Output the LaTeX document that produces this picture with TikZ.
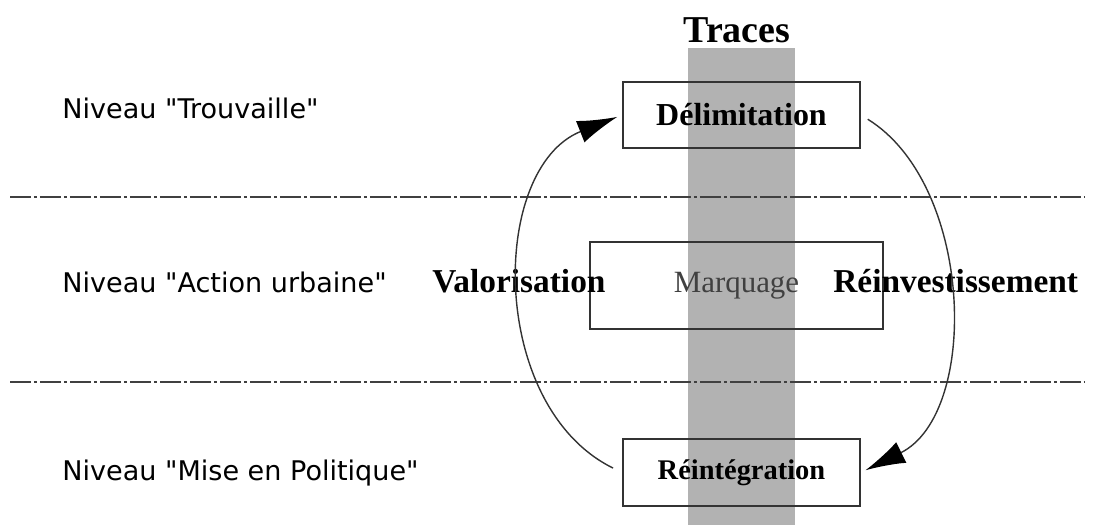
\documentclass[tikz,border=0pt]{standalone}
\usepackage{fontspec}
\setmainfont{Liberation Serif}
\newfontfamily\niveaufont{DejaVu Sans}
\usetikzlibrary{arrows.meta,positioning}

\tikzset{
  niveau/.style={anchor=base west,inner sep=0pt,font=\niveaufont\fontsize{15.4}{18}\selectfont},
  boite/.style={draw=black!80,line width=1.1pt,inner sep=0pt,minimum width=4.74cm,minimum height=1.32cm},
  phase/.style={anchor=base west,inner sep=0pt,font=\bfseries\fontsize{19}{22}\selectfont},
  separation/.style={draw=black!75,line width=1.2pt,dash pattern=on 0.42cm off 0.06cm on 0.06cm off 0.06cm},
  fleche/.style={draw=black!80,line width=0.8pt,-{Latex[length=0.8cm,width=0.46cm,fill=black,color=black]}}
}

\begin{document}
\begin{tikzpicture}[x=0.02cm,y=-0.02cm]
  \useasboundingbox (0,0) rectangle (1107,525);
  \fill[black!30] (688,48) rectangle (795,525);

  \draw[separation] (10,197) -- (1085,197);
  \draw[separation] (10,382) -- (1085,382);

  \node[anchor=base,inner sep=0pt,font=\bfseries\fontsize{21.6}{24}\selectfont] (traces) at (737,42) {Traces};

  \node[niveau] (trouvaille) at (62,118) {Niveau "Trouvaille"};
  \node[niveau] (action) at (62,292) {Niveau "Action urbaine"};
  \node[niveau] (politique) at (62,480) {Niveau "Mise en Politique"};

  \node[boite,font=\bfseries\fontsize{18.2}{20}\selectfont] (delim) at (741.5,115) {Délimitation};
  \node[boite,minimum width=5.86cm,minimum height=1.74cm,text=black!75,font=\fontsize{17.6}{20}\selectfont] (marquage) at (736.5,285.5) {Marquage};
  \node[boite,minimum height=1.34cm,font=\bfseries\fontsize{16.2}{18}\selectfont] (reint) at (741.5,472.5) {Réintégration};

  \node[phase] (valor) at (432,292) {Valorisation};
  \node[phase] (reinv) at (833,292) {Réinvestissement};

  \draw[fleche,shorten <=0.2cm,shorten >=0.1cm] (reint.west) .. controls +(-134,-66) and +(-133,53) .. (delim.west);
  \draw[fleche,shorten <=0.16cm,shorten >=0.1cm] (delim.east) .. controls +(113,70) and +(119,-59) .. (reint.east);
\end{tikzpicture}
\end{document}
